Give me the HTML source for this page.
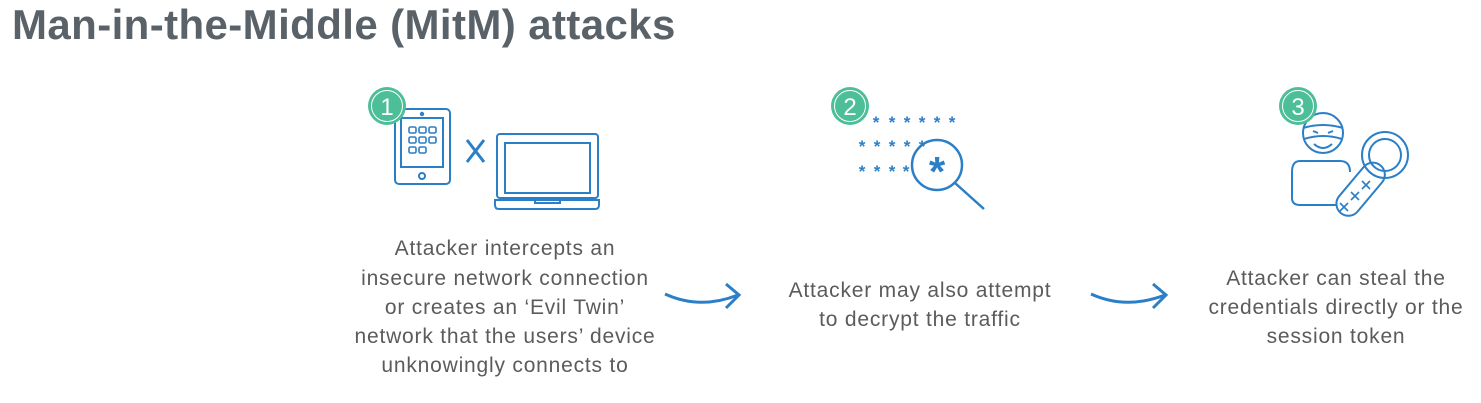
<!DOCTYPE html>
<html><head><meta charset="utf-8"><style>
body{margin:0;background:#fff;width:1481px;height:403px;overflow:hidden}
svg{display:block}
text{font-family:"Liberation Sans",sans-serif}
</style></head><body>
<svg width="1481" height="403" viewBox="0 0 1481 403">
<text x="12" y="39" font-size="42" font-weight="bold" fill="#5a6269" letter-spacing="0.4">Man-in-the-Middle (MitM) attacks</text>
<g fill="none" stroke="#2b7fc6" stroke-width="2">
<rect x="395" y="109" width="55" height="75" rx="4"/>
<rect x="401" y="118" width="42" height="49"/>
<circle cx="422" cy="176" r="3"/>
<circle cx="422" cy="114" r="1.2"/>
<g stroke-width="1.6">
<rect x="409" y="127" width="7" height="6" rx="1.5"/><rect x="419" y="127" width="7" height="6" rx="1.5"/><rect x="429" y="127" width="7" height="6" rx="1.5"/>
<rect x="409" y="137" width="7" height="6" rx="1.5"/><rect x="419" y="137" width="7" height="6" rx="1.5"/><rect x="429" y="137" width="7" height="6" rx="1.5"/>
<rect x="409" y="147" width="7" height="6" rx="1.5"/><rect x="419" y="147" width="7" height="6" rx="1.5"/>
</g>
<rect x="497" y="134" width="101" height="64" rx="3"/>
<rect x="505" y="143" width="85" height="50"/>
<path d="M495 200 H599 V205 Q599 209 595 209 H499 Q495 209 495 205 Z"/>
<path d="M535 200 V203 H560 V200"/>
<path d="M467 140 L484 162 M484 140 L467 162" stroke-width="3"/>
<circle cx="937" cy="165" r="25" stroke-width="2.5"/>
<line x1="955" y1="183" x2="984" y2="209" stroke-width="2.5"/>
<circle cx="1323" cy="133" r="20"/>
<path d="M1303 128 Q1323 122 1343 128 M1304 139 Q1323 133 1342 139"/>
<path d="M1313 131 l5 2 M1333 131 l-5 2" />
<path d="M1314 144 Q1323 152 1332 144"/>
<path d="M1300 161 H1340 Q1350 161 1350 172 M1300 161 Q1292 161 1292 172 V198 Q1292 205 1300 205 H1336"/>
<g transform="rotate(40 1360 190)">
<rect x="1348" y="158" width="24" height="62" rx="12"/>
</g>
<circle cx="1385" cy="155" r="23"/>
<circle cx="1385" cy="155" r="16"/>
<g stroke-width="1.6">
<path d="M1340 203 l8 8 M1348 203 l-8 8 M1351 192 l8 8 M1359 192 l-8 8 M1362 181 l8 8 M1370 181 l-8 8"/>
</g>
<path d="M665 294 Q700 310 738 295" stroke-width="3"/>
<path d="M726 284 L739 295 L726 308" stroke-width="3"/>
<path d="M1091 294 Q1126 310 1165 295" stroke-width="3"/>
<path d="M1153 284 L1166 295 L1153 308" stroke-width="3"/>
</g>
<g fill="#2b7fc6" font-size="17" font-weight="bold" text-anchor="middle">
<text x="876" y="128">*</text><text x="892" y="128">*</text><text x="907" y="128">*</text><text x="922" y="128">*</text><text x="937" y="128">*</text><text x="952" y="128">*</text>
<text x="862" y="152">*</text><text x="877" y="152">*</text><text x="892" y="152">*</text><text x="907" y="152">*</text><text x="922" y="152">*</text>
<text x="862" y="177">*</text><text x="877" y="177">*</text><text x="892" y="177">*</text><text x="906" y="177">*</text>
<text x="937" y="186" font-size="42">*</text>
</g>
<g>
<circle cx="387" cy="106" r="19" fill="#4dbf98"/><circle cx="387" cy="106" r="15.5" fill="none" stroke="#fff" stroke-width="1"/>
<text x="387" y="115" font-size="24" fill="#fff" text-anchor="middle">1</text>
<circle cx="850" cy="106" r="19" fill="#4dbf98"/><circle cx="850" cy="106" r="15.5" fill="none" stroke="#fff" stroke-width="1"/>
<text x="850" y="115" font-size="24" fill="#fff" text-anchor="middle">2</text>
<circle cx="1298" cy="106" r="19" fill="#4dbf98"/><circle cx="1298" cy="106" r="15.5" fill="none" stroke="#fff" stroke-width="1"/>
<text x="1298" y="115" font-size="24" fill="#fff" text-anchor="middle">3</text>
</g>
<g font-size="21" fill="#5b5b5b" text-anchor="middle" letter-spacing="0.8">
<text x="505" y="255">Attacker intercepts an</text>
<text x="505" y="285">insecure network connection</text>
<text x="505" y="314">or creates an ‘Evil Twin’</text>
<text x="505" y="343">network that the users’ device</text>
<text x="505" y="372">unknowingly connects to</text>
<text x="920" y="297">Attacker may also attempt</text>
<text x="920" y="326">to decrypt the traffic</text>
<text x="1336" y="285">Attacker can steal the</text>
<text x="1336" y="314">credentials directly or the</text>
<text x="1336" y="343">session token</text>
</g>
</svg>
</body></html>
